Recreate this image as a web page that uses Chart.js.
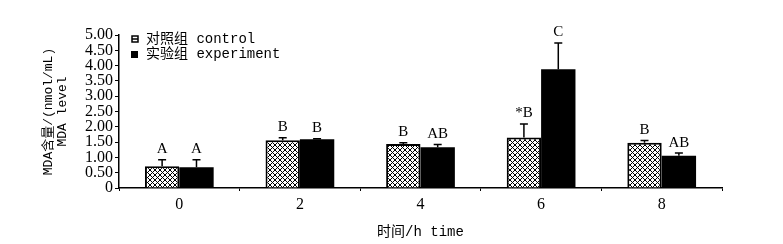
<!DOCTYPE html>
<html>
<head>
<meta charset="utf-8">
<script src="https://cdn.jsdelivr.net/npm/chart.js@4.4.1/dist/chart.umd.min.js"></script>
<style>
  html, body { margin: 0; padding: 0; background: #fff; }
  #wrap { width: 783px; height: 244px; position: relative; }
</style>
</head>
<body>
<div id="wrap"><canvas id="chart"></canvas></div>
<script>
// data
const categories = ['0', '2', '4', '6', '8'];
const controlValues = [0.71, 1.56, 1.44, 1.65, 1.48];
const controlErrors = [0.21, 0.08, 0.04, 0.44, 0.07];
const experimentValues = [0.68, 1.59, 1.33, 3.88, 1.05];
const experimentErrors = [0.24, 0.02, 0.09, 0.86, 0.09];
const controlLetters = ['A', 'B', 'B', '*B', 'B'];
const experimentLetters = ['A', 'B', 'AB', 'C', 'AB'];
const seriesNames = ['对照组 control', '实验组 experiment'];

const FONT = '"Liberation Mono", "Noto Sans CJK SC", monospace';
const NUMFONT = '"Liberation Serif", serif';

// crosshatch fill for the control bars
function makeHatch() {
    const s = 5;
    const c = document.createElement('canvas');
    c.width = s; c.height = s;
    const g = c.getContext('2d');
    g.fillStyle = '#fff';
    g.fillRect(0, 0, s, s);
    g.strokeStyle = '#000';
    g.lineWidth = 1;
    g.beginPath();
    g.moveTo(0, 0); g.lineTo(s, s);
    g.moveTo(0, s); g.lineTo(s, 0);
    g.stroke();
    return g.createPattern(c, 'repeat');
}
const hatch = makeHatch();

// error bars (upper half only) + letters above them
const errorBarPlugin = {
    id: 'errorBars',
    afterDatasetsDraw(chart) {
        const ctx = chart.ctx;
        const y = chart.scales.y;
        const errs = [controlErrors, experimentErrors];
        const letters = [controlLetters, experimentLetters];
        ctx.save();
        chart.data.datasets.forEach((ds, di) => {
            const meta = chart.getDatasetMeta(di);
            meta.data.forEach((bar, i) => {
                const top = y.getPixelForValue(ds.data[i]);
                const errTop = y.getPixelForValue(ds.data[i] + errs[di][i]);
                ctx.strokeStyle = '#000';
                ctx.lineWidth = 1.5;
                ctx.beginPath();
                ctx.moveTo(bar.x, top);
                ctx.lineTo(bar.x, errTop);
                ctx.moveTo(bar.x - 4, errTop);
                ctx.lineTo(bar.x + 4, errTop);
                ctx.stroke();
                ctx.fillStyle = '#000';
                ctx.font = '15px ' + NUMFONT;
                ctx.textAlign = 'center';
                ctx.textBaseline = 'bottom';
                ctx.fillText(letters[di][i], bar.x, errTop - 3);
            });
        });
        ctx.restore();
    }
};

// legend drawn inside the plot, top left
const legendPlugin = {
    id: 'innerLegend',
    afterDraw(chart) {
        const ctx = chart.ctx;
        const x0 = 132;
        const rows = [39, 54];
        ctx.save();
        rows.forEach((ry, i) => {
            if (i === 0) {
                ctx.fillStyle = '#fff';
                ctx.fillRect(x0, ry - 3, 6, 6);
                ctx.strokeStyle = '#000';
                ctx.lineWidth = 1.5;
                ctx.strokeRect(x0, ry - 3, 6, 6);
                ctx.beginPath();
                ctx.moveTo(x0, ry); ctx.lineTo(x0 + 6, ry);
                ctx.stroke();
            } else {
                ctx.fillStyle = '#000';
                ctx.fillRect(x0 - 1, ry - 3, 7, 7);
            }
            ctx.fillStyle = '#000';
            ctx.font = '14px ' + FONT;
            ctx.textAlign = 'left';
            ctx.textBaseline = 'middle';
            ctx.fillText(seriesNames[i], x0 + 14, ry);
        });
        ctx.restore();
    }
};

new Chart(document.getElementById('chart'), {
    type: 'bar',
    data: {
        labels: categories,
        datasets: [
            {
                label: seriesNames[0],
                data: controlValues,
                backgroundColor: hatch,
                borderColor: '#000',
                borderWidth: 2,
                borderSkipped: 'bottom'
            },
            {
                label: seriesNames[1],
                data: experimentValues,
                backgroundColor: '#000',
                borderColor: '#000',
                borderWidth: 0
            }
        ]
    },
    options: {
        responsive: true,
        maintainAspectRatio: false,
        animation: false,
        devicePixelRatio: 1,
        categoryPercentage: 0.57,
        barPercentage: 1.0,
        layout: {
            padding: { top: 35, right: 61, bottom: 3, left: 0 }
        },
        plugins: {
            legend: { display: false },
            tooltip: { enabled: false }
        },
        scales: {
            x: {
                afterFit: (scale) => { scale.height = 53; },
                grid: {
                    display: true,
                    offset: true,
                    drawOnChartArea: false,
                    drawTicks: true,
                    tickLength: 3,
                    color: '#000'
                },
                border: { color: '#000', width: 1.5 },
                ticks: {
                    color: '#000',
                    font: { family: NUMFONT, size: 16 },
                    padding: 4
                },
                title: {
                    display: true,
                    text: '时间/h time',
                    color: '#000',
                    font: { family: FONT, size: 14 },
                    padding: { top: 4, bottom: 0 }
                }
            },
            y: {
                min: 0,
                max: 5,
                afterFit: (scale) => { scale.width = 119; },
                grid: {
                    display: true,
                    drawOnChartArea: false,
                    drawTicks: true,
                    tickLength: 4,
                    color: '#000'
                },
                border: { color: '#000', width: 1.5 },
                ticks: {
                    stepSize: 0.5,
                    autoSkip: false,
                    color: '#000',
                    font: { family: NUMFONT, size: 16 },
                    padding: 2,
                    callback: (v) => v === 0 ? '0' : v.toFixed(2)
                },
                title: {
                    display: true,
                    text: ['MDA含量/(nmol/mL)', 'MDA level'],
                    color: '#000',
                    font: { family: FONT, size: 13, lineHeight: 1.05 },
                    padding: { top: 42, bottom: 0 }
                }
            }
        }
    },
    plugins: [errorBarPlugin, legendPlugin]
});
</script>
</body>
</html>
